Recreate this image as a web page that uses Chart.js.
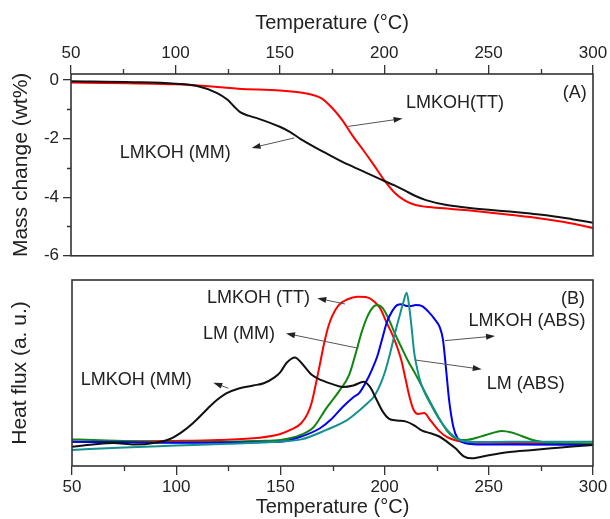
<!DOCTYPE html>
<html>
<head>
<meta charset="utf-8">
<script src="https://cdn.jsdelivr.net/npm/chart.js@4.4.0/dist/chart.umd.min.js"></script>
<style>
body { margin:0; background:#fff; width:610px; height:519px; overflow:hidden; position:relative; }
#boxA { position:absolute; left:0; top:0; width:610px; height:270px; }
#boxB { position:absolute; left:0; top:270px; width:610px; height:249px; }
</style>
</head>
<body>
<div id="boxA"><canvas id="chartA"></canvas></div>
<div id="boxB"><canvas id="chartB"></canvas></div>
<script>
// ---- data ----
// (A) mass change, wt%
var tempA_MM = [50, 80, 100, 110, 120, 125, 128, 131, 135, 140, 150, 155, 160, 170, 180, 190, 200, 205, 210, 215, 220, 230, 240, 250, 260, 270, 280, 290, 300]
var massMM   = [-0.05, -0.08, -0.13, -0.2, -0.45, -0.68, -0.9, -1.1, -1.22, -1.33, -1.6, -1.78, -2.02, -2.42, -2.8, -3.12, -3.45, -3.6, -3.78, -3.96, -4.1, -4.27, -4.36, -4.43, -4.49, -4.56, -4.64, -4.75, -4.87]
var tempA_TT = [50, 100, 120, 130, 150, 160, 165, 170, 175, 180, 185, 190, 195, 200, 205, 210, 215, 220, 230, 240, 250, 260, 270, 280, 290, 300]
var massTT   = [-0.09, -0.15, -0.24, -0.3, -0.36, -0.43, -0.5, -0.63, -0.95, -1.38, -1.92, -2.4, -2.9, -3.42, -3.85, -4.12, -4.27, -4.33, -4.39, -4.45, -4.52, -4.6, -4.68, -4.78, -4.9, -5.05]

// (B) heat flux, a.u.
var tempB_MM = [50, 60, 70, 80, 90, 97, 103, 108, 113, 118, 124, 130, 137, 142, 147, 150, 153, 157, 160, 165, 170, 175, 180, 185, 190, 193, 196, 199, 202, 206, 210, 214, 218, 222, 226, 230, 234, 238, 242, 250, 260, 270, 280, 290, 300]
var heatMM   = [10.4, 11.5, 12.3, 11.5, 12.5, 14.5, 18.5, 23, 28.5, 34, 39, 41.7, 43.3, 44.5, 47.5, 50.5, 55.5, 58.4, 55.5, 49, 46, 44, 42.5, 43.3, 45.3, 42.5, 36, 29.5, 25.5, 24.5, 24, 22, 19, 17.6, 16, 13, 9.5, 5.2, 4.1, 5.8, 7.5, 8.5, 9.5, 10.5, 11.3]
var tempB_TT = [50, 75, 100, 120, 140, 150, 155, 160, 163, 165, 167, 169, 171, 173, 175, 178, 182, 187, 191, 195, 198, 201, 204, 206, 208, 210, 212, 214, 216, 219, 222, 226, 230, 235, 240, 250, 270, 300]
var heatTT   = [13, 13.2, 13.5, 14, 15.2, 17.2, 19.5, 23, 28, 34, 44, 55, 66, 75, 81, 86.5, 89.5, 91, 90.8, 88.5, 84.5, 77, 70, 64, 57, 47, 37, 30, 28, 28.5, 24.5, 19, 15.5, 13.5, 12.6, 12.5, 12.3, 12]
var tempB_LM = [50, 60, 75, 100, 125, 140, 150, 160, 166, 172, 178, 183, 186, 189, 192, 194.5, 196.5, 199, 202, 205, 208, 211, 215, 219, 223, 227, 231, 234, 239, 246, 251, 256, 261, 266, 271, 281, 300]
var heatLM   = [14.3, 14, 13.5, 12.8, 13, 13.5, 14, 16.8, 21, 31, 40, 49, 60, 72, 81, 85.5, 86.6, 85, 79, 71, 64, 57, 49, 40.5, 32, 24, 17.5, 14.9, 14, 15.8, 17.5, 18.8, 18, 16, 14, 12.2, 12]
var tempB_ABS = [50, 75, 100, 125, 150, 160, 169, 174, 180, 185, 188, 191, 194, 196.5, 199, 201, 203.5, 206, 208, 210, 212.5, 215, 218, 221, 224, 226.5, 228, 229.5, 231, 233, 235, 239, 245, 260, 300]
var heatABS   = [13, 12.8, 12.5, 12.6, 13, 15.8, 20.3, 24.7, 31.9, 37, 39.5, 45, 52, 59, 69, 77, 83, 86.5, 87, 86.2, 86, 86.6, 86, 83, 79, 74.5, 68, 52, 35, 21, 15, 12.2, 11.6, 11.5, 11.3]
var tempB_LMABS = [50, 75, 100, 125, 150, 160, 172, 182, 188, 192, 195, 198, 200, 202.5, 205, 207.5, 209, 210.6, 212, 213, 214.2, 215.5, 217, 219, 222, 226.5, 231.5, 236, 243, 260, 300]
var heatLMABS   = [8.6, 10, 11, 12, 13.2, 14.3, 19.4, 24.7, 30, 34, 37.5, 44, 50, 60, 71.5, 82, 88, 93.2, 84, 74, 61, 53, 46, 40, 33.5, 24.7, 17.6, 14, 12.9, 13, 13]

// tick labels
var xTicks  = [50, 100, 150, 200, 250, 300]
var xMinor  = [75, 125, 175, 225, 275]
var yTicksA = [0, -2, -4, -6]
var yMinorA = [-1, -3, -5]

var FONT = "'Liberation Sans', Arial, sans-serif"
var INK = '#222'

function pts(xs, ys) {
    return xs.map(function (x, i) { return {x: x, y: ys[i]} })
}

function line(label, xs, ys, color) {
    return {label: label, data: pts(xs, ys), borderColor: color, borderWidth: 2, pointRadius: 0, fill: false, cubicInterpolationMode: 'monotone'}
}

// box around the plot + short minor ticks
function framePlugin(minorX, xSide, minorY) {
    return {
        id: 'frame',
        afterDraw: function (chart) {
            var ctx = chart.ctx, a = chart.chartArea
            var sx = chart.scales.x, sy = chart.scales.y
            ctx.save()
            ctx.strokeStyle = '#333'
            ctx.lineWidth = 1.6
            ctx.strokeRect(a.left, a.top, a.right - a.left, a.bottom - a.top)
            ctx.lineWidth = 1.3
            ctx.beginPath()
            minorX.forEach(function (v) {
                var px = Math.round(sx.getPixelForValue(v)) + 0.5
                if (xSide == 'top') { ctx.moveTo(px, a.top); ctx.lineTo(px, a.top - 5) }
                else { ctx.moveTo(px, a.bottom); ctx.lineTo(px, a.bottom + 5) }
            })
            minorY.forEach(function (v) {
                var py = Math.round(sy.getPixelForValue(v)) + 0.5
                ctx.moveTo(a.left, py); ctx.lineTo(a.left - 4, py)
            })
            ctx.stroke()
            ctx.restore()
        }
    }
}

// text labels with thin arrows
function notesPlugin(items) {
    return {
        id: 'notes',
        afterDatasetsDraw: function (chart) {
            var ctx = chart.ctx, sx = chart.scales.x, sy = chart.scales.y
            ctx.save()
            items.forEach(function (n) {
                if (n.from) {
                    var x1 = sx.getPixelForValue(n.from[0]), y1 = sy.getPixelForValue(n.from[1])
                    var x2 = sx.getPixelForValue(n.to[0]), y2 = sy.getPixelForValue(n.to[1])
                    var ang = Math.atan2(y2 - y1, x2 - x1)
                    ctx.strokeStyle = '#555'
                    ctx.lineWidth = 1
                    ctx.beginPath()
                    ctx.moveTo(x1, y1)
                    ctx.lineTo(x2 - 6 * Math.cos(ang), y2 - 6 * Math.sin(ang))
                    ctx.stroke()
                    ctx.fillStyle = '#222'
                    ctx.beginPath()
                    ctx.moveTo(x2, y2)
                    ctx.lineTo(x2 - 9 * Math.cos(ang) + 3 * Math.sin(ang), y2 - 9 * Math.sin(ang) - 3 * Math.cos(ang))
                    ctx.lineTo(x2 - 9 * Math.cos(ang) - 3 * Math.sin(ang), y2 - 9 * Math.sin(ang) + 3 * Math.cos(ang))
                    ctx.closePath()
                    ctx.fill()
                }
                ctx.fillStyle = INK
                ctx.font = '18px ' + FONT
                ctx.textAlign = n.align
                ctx.textBaseline = 'middle'
                ctx.fillText(n.text, sx.getPixelForValue(n.x), sy.getPixelForValue(n.y))
            })
            ctx.restore()
        }
    }
}

var notesA = [
    {text: 'LMKOH(TT)', x: 210.4, y: -0.78, align: 'left', from: [182.5, -1.59], to: [208.8, -1.32]},
    {text: 'LMKOH (MM)', x: 73.4, y: -2.51, align: 'left', from: [157, -1.98], to: [136.5, -2.32]},
    {text: '(A)', x: 297, y: -0.45, align: 'right'}
]
var notesB = [
    {text: 'LMKOH (TT)', x: 164.2, y: 90.2, align: 'right', from: [181, 87.1], to: [167.7, 90.2]},
    {text: 'LM (MM)', x: 147.4, y: 71, align: 'right', from: [187.4, 63.3], to: [152.7, 71.3]},
    {text: 'LMKOH (MM)', x: 107.4, y: 46, align: 'right', from: [125, 41.8], to: [117.8, 44.8]},
    {text: 'LMKOH (ABS)', x: 240.2, y: 78, align: 'left', from: [229, 67.4], to: [253, 69.9]},
    {text: 'LM (ABS)', x: 249, y: 44, align: 'left', from: [214.6, 57], to: [246.6, 52]},
    {text: '(B)', x: 296.2, y: 89.8, align: 'right'}
]

var tickFont = {size: 17, family: FONT}
var titleFont = {size: 20, family: FONT}

var chartA = new Chart(document.getElementById('chartA'), {
    type: 'line',
    data: {
        datasets: [
            line('LMKOH (MM)', tempA_MM, massMM, '#111'),
            line('LMKOH(TT)', tempA_TT, massTT, '#f00')
        ]
    },
    options: {
        animation: false,
        responsive: true,
        maintainAspectRatio: false,
        layout: {padding: {left: 0, top: 0, right: 17, bottom: 10}},
        plugins: {legend: {display: false}, tooltip: {enabled: false}},
        scales: {
            x: {
                type: 'linear', position: 'top', min: 50, max: 300,
                afterBuildTicks: function (s) { s.ticks = xTicks.map(function (v) { return {value: v} }) },
                afterFit: function (s) { s.height = 74 },
                grid: {drawOnChartArea: false, tickLength: 9, color: '#333', lineWidth: 1.3},
                border: {display: false},
                ticks: {maxRotation: 0, minRotation: 0, padding: 1, color: INK, font: tickFont},
                title: {display: true, text: 'Temperature (°C)', color: INK, font: titleFont, padding: {top: 11, bottom: 0}}
            },
            y: {
                min: -6, max: 0.2,
                afterBuildTicks: function (s) { s.ticks = yTicksA.map(function (v) { return {value: v} }) },
                afterFit: function (s) { s.width = 71 },
                grid: {drawOnChartArea: false, tickLength: 8, color: '#333', lineWidth: 1.3},
                border: {display: false},
                ticks: {padding: 4, color: INK, font: tickFont},
                title: {display: true, text: 'Mass change (wt%)', color: INK, font: {size: 21, family: FONT}, padding: {top: 9, bottom: 0}}
            }
        }
    },
    plugins: [framePlugin(xMinor, 'top', yMinorA), notesPlugin(notesA)]
})

var chartB = new Chart(document.getElementById('chartB'), {
    type: 'line',
    data: {
        datasets: [
            line('LMKOH (MM)', tempB_MM, heatMM, '#111'),
            line('LM (ABS)', tempB_LMABS, heatLMABS, '#13908f'),
            line('LMKOH (ABS)', tempB_ABS, heatABS, '#0000f0'),
            line('LM (MM)', tempB_LM, heatLM, '#108510'),
            line('LMKOH (TT)', tempB_TT, heatTT, '#f00')
        ]
    },
    options: {
        animation: false,
        responsive: true,
        maintainAspectRatio: false,
        layout: {padding: {left: 0, top: 10, right: 17, bottom: 0}},
        plugins: {legend: {display: false}, tooltip: {enabled: false}},
        scales: {
            x: {
                type: 'linear', position: 'bottom', min: 50, max: 300,
                afterBuildTicks: function (s) { s.ticks = xTicks.map(function (v) { return {value: v} }) },
                afterFit: function (s) { s.height = 53 },
                grid: {drawOnChartArea: false, tickLength: 9, color: '#333', lineWidth: 1.3},
                border: {display: false},
                ticks: {maxRotation: 0, minRotation: 0, padding: 2, color: INK, font: tickFont},
                title: {display: true, text: 'Temperature (°C)', color: INK, font: titleFont, padding: {top: 0, bottom: 0}}
            },
            y: {
                min: 0, max: 100,
                afterFit: function (s) { s.width = 72 },
                grid: {display: false},
                border: {display: false},
                ticks: {display: false},
                title: {display: true, text: 'Heat flux (a. u.)', color: INK, font: {size: 21, family: FONT}, padding: {top: 8, bottom: 0}}
            }
        }
    },
    plugins: [framePlugin(xMinor, 'bottom', []), notesPlugin(notesB)]
})
</script>
</body>
</html>
